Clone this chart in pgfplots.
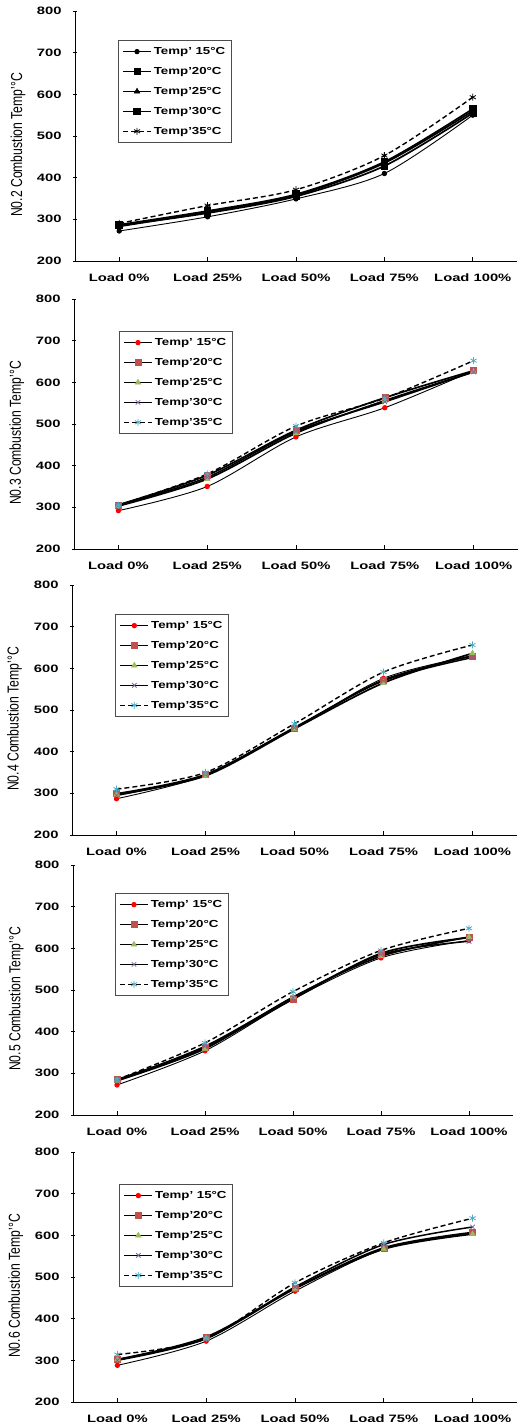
\documentclass[border=0pt]{standalone}
\usepackage{fontspec}
\setmainfont{Liberation Sans}
\usepackage{graphicx}
\usepackage{pgfplots}
\usepackage{pgfplotstable}
\pgfplotsset{compat=1.18}

\definecolor{cA}{HTML}{FF0000}
\definecolor{cB}{HTML}{C0504D}
\definecolor{cC}{HTML}{9BBB59}
\definecolor{cD}{HTML}{8064A2}
\definecolor{cE}{HTML}{4BACC6}

\newcommand{\W}[1]{\scalebox{1.38}[1]{#1}}
\newcommand{\LG}[1]{\scalebox{1.3}[1]{#1}}
\newcommand{\YL}[1]{\scalebox{1}[1.3]{\fontsize{12.2}{13}\selectfont #1}}

\pgfplotstableread{
x t15 t20 t25 t30 t35
0 272 285 283 287 290
1 306 315 318 320 333
2 349 355 358 360 371
3 410 428 435 438 453
4 550 555 560 565 593
}\tA
\pgfplotstableread{
x t15 t20 t25 t30 t35
0 292 306 303 305 305
1 350 377 368 372 380
2 469 485 478 482 495
3 539 563 556 553 562
4 628 628 625 625 652
}\tB
\pgfplotstableread{
x t15 t20 t25 t30 t35
0 287 299 297 295 310
1 343 345 342 345 350
2 455 457 455 458 467
3 576 572 565 570 591
4 630 630 636 626 656
}\tC
\pgfplotstableread{
x t15 t20 t25 t30 t35
0 272 285 282 283 285
1 354 362 359 365 373
2 478 478 483 482 496
3 577 588 581 585 595
4 619 626 627 617 648
}\tD
\pgfplotstableread{
x t15 t20 t25 t30 t35
0 288 302 302 300 314
1 346 356 353 352 352
2 466 473 472 476 486
3 567 570 567 578 582
4 605 607 603 620 641
}\tE

\pgfplotsset{
  base/.style={
    scale only axis, height=250pt,
    xmin=-0.5, xmax=4.5, ymin=200, ymax=800,
    ytick={200,300,...,800}, xtick={0,1,2,3,4},
    /pgf/number format/assume math mode=true,
    xticklabels={\W{Load 0\%},\W{Load 25\%},\W{Load 50\%},\W{Load 75\%},\W{Load 100\%}},
    yticklabel={\W{\pgfmathprintnumber{\tick}}},
    ticklabel style={font=\bfseries\fontsize{10.7}{11}\selectfont},
    xticklabel style={yshift=-9pt},
    yticklabel style={xshift=-8pt},
    axis x line=bottom, axis y line=left,
    axis line style={-, line width=0.8pt},
    major tick length=4pt,
    xtick align=inside, ytick align=center,
    tick style={line width=0.6pt, black},
    ylabel style={at={(axis description cs:-0.129,0.464)}, anchor=center},
    legend cell align=left,
    legend style={anchor=north west, draw=black!70, line width=0.6pt, fill=white,
      font=\bfseries\fontsize{10.2}{10}\selectfont, row sep=7.3pt, inner xsep=4pt, inner ysep=5pt},
    legend image code/.code={\draw[mark repeat=2,mark phase=2] plot coordinates {(0pt,0pt) (14pt,0pt) (28pt,0pt)};},
  },
  sA/.style={black, line width=0.9pt, smooth, tension=0.5, mark=*, mark size=2.2pt, mark options={solid, fill=#1, draw=#1}},
  sB/.style={black, line width=1.7pt, smooth, tension=0.5, mark=square*, mark size=3pt, mark options={solid, fill=#1, draw=#1, line width=0.5pt}},
  sC/.style={black, line width=1.7pt, smooth, tension=0.5, mark=triangle*, mark size=3.2pt, mark options={solid, fill=#1, draw=#1, line width=0.5pt}},
  sD/.style={black, line width=1.5pt, smooth, tension=0.5, mark=x, mark size=3.2pt, mark options={solid, draw=#1, line width=0.8pt}},
  sDs/.style={black, line width=1.7pt, smooth, tension=0.5, mark=square*, mark size=3pt, mark options={solid, fill=black, draw=black}},
  sE/.style={black, line width=1.4pt, dash pattern=on 5pt off 3pt, smooth, tension=0.5, mark=asterisk, mark size=3.5pt, mark options={solid, draw=#1, line width=0.8pt}},
}

\begin{document}
\begin{tikzpicture}[x=1pt,y=1pt]
\useasboundingbox (0,0) rectangle (532,1422);

% Panel 1
\begin{axis}[base, at={(75pt,1411pt)}, anchor=north west, width=442pt,
  ylabel={\YL{N0.2 Combustion Temp'°C}},
  legend style={at={(axis description cs:0.097,0.884)}}]
\addplot[sA=black] table[x=x,y=t15]{\tA}; \addlegendentry{\LG{Temp' 15°C}}
\addplot[sB=black] table[x=x,y=t20]{\tA}; \addlegendentry{\LG{Temp'20°C}}
\addplot[sC=black] table[x=x,y=t25]{\tA}; \addlegendentry{\LG{Temp'25°C}}
\addplot[sDs] table[x=x,y=t30]{\tA}; \addlegendentry{\LG{Temp'30°C}}
\addplot[sE=black] table[x=x,y=t35]{\tA}; \addlegendentry{\LG{Temp'35°C}}
\end{axis}

% Panel 2
\begin{axis}[base, at={(74pt,1123pt)}, anchor=north west, width=444pt,
  ylabel={\YL{N0.3 Combustion Temp'°C}},
  legend style={at={(axis description cs:0.101,0.872)}}]
\addplot[sA=cA] table[x=x,y=t15]{\tB}; \addlegendentry{\LG{Temp' 15°C}}
\addplot[sB=cB] table[x=x,y=t20]{\tB}; \addlegendentry{\LG{Temp'20°C}}
\addplot[sC=cC] table[x=x,y=t25]{\tB}; \addlegendentry{\LG{Temp'25°C}}
\addplot[sD=cD] table[x=x,y=t30]{\tB}; \addlegendentry{\LG{Temp'30°C}}
\addplot[sE=cE] table[x=x,y=t35]{\tB}; \addlegendentry{\LG{Temp'35°C}}
\end{axis}

% Panel 3
\begin{axis}[base, at={(72pt,837pt)}, anchor=north west, width=445pt,
  ylabel={\YL{N0.4 Combustion Temp'°C}},
  legend style={at={(axis description cs:0.097,0.884)}}]
\addplot[sA=cA] table[x=x,y=t15]{\tC}; \addlegendentry{\LG{Temp' 15°C}}
\addplot[sB=cB] table[x=x,y=t20]{\tC}; \addlegendentry{\LG{Temp'20°C}}
\addplot[sC=cC] table[x=x,y=t25]{\tC}; \addlegendentry{\LG{Temp'25°C}}
\addplot[sD=cD] table[x=x,y=t30]{\tC}; \addlegendentry{\LG{Temp'30°C}}
\addplot[sE=cE] table[x=x,y=t35]{\tC}; \addlegendentry{\LG{Temp'35°C}}
\end{axis}

% Panel 4
\begin{axis}[base, at={(73pt,557pt)}, anchor=north west, width=440pt,
  ylabel={\YL{N0.5 Combustion Temp'°C}},
  legend style={at={(axis description cs:0.095,0.888)}}]
\addplot[sA=cA] table[x=x,y=t15]{\tD}; \addlegendentry{\LG{Temp' 15°C}}
\addplot[sB=cB] table[x=x,y=t20]{\tD}; \addlegendentry{\LG{Temp'20°C}}
\addplot[sC=cC] table[x=x,y=t25]{\tD}; \addlegendentry{\LG{Temp'25°C}}
\addplot[sD=cD] table[x=x,y=t30]{\tD}; \addlegendentry{\LG{Temp'30°C}}
\addplot[sE=cE] table[x=x,y=t35]{\tD}; \addlegendentry{\LG{Temp'35°C}}
\end{axis}

% Panel 5
\begin{axis}[base, at={(73pt,270pt)}, anchor=north west, width=444pt,
  ylabel={\YL{N0.6 Combustion Temp'°C}},
  legend style={at={(axis description cs:0.104,0.872)}}]
\addplot[sA=cA] table[x=x,y=t15]{\tE}; \addlegendentry{\LG{Temp' 15°C}}
\addplot[sB=cB] table[x=x,y=t20]{\tE}; \addlegendentry{\LG{Temp'20°C}}
\addplot[sC=cC] table[x=x,y=t25]{\tE}; \addlegendentry{\LG{Temp'25°C}}
\addplot[sD=cD] table[x=x,y=t30]{\tE}; \addlegendentry{\LG{Temp'30°C}}
\addplot[sE=cE] table[x=x,y=t35]{\tE}; \addlegendentry{\LG{Temp'35°C}}
\end{axis}
\end{tikzpicture}
\end{document}
